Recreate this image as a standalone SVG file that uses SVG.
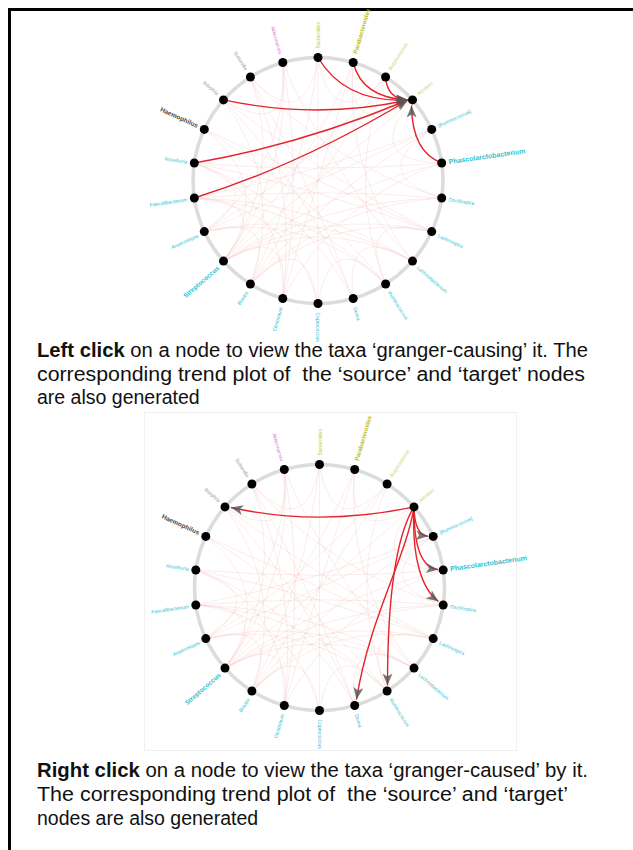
<svg xmlns="http://www.w3.org/2000/svg" xmlns:xlink="http://www.w3.org/1999/xlink" width="633" height="850" viewBox="0 0 633 850">
<style>
.ring{fill:none;stroke:#dcdcdc;stroke-width:3.5}
.dot{fill:#000}
.lbl{font-family:"Liberation Sans",Arial,sans-serif;font-size:5px;dominant-baseline:central}
.end{text-anchor:end}
.yl{fill:#c3cc36}.yl2{fill:#b4c01c;font-weight:bold;font-size:6px}.yl3{fill:#ccd46a}
.cy{fill:#2cbfd1}.big{font-size:7px;font-weight:bold}.mid{font-size:6.5px;font-weight:bold}
.gy{fill:#9a9a9a}.dk{fill:#4a4a4a}.pk{fill:#e07fd8}
.bg{fill:none;stroke:#f09a9a;stroke-width:.7;opacity:.28}
.hl{fill:none;stroke:#e8202a;stroke-width:1.4}
.cap{font-family:"Liberation Sans",Arial,sans-serif;font-size:19.5px;fill:#111;white-space:pre}
</style>
<defs>
<marker id="arr" markerUnits="userSpaceOnUse" markerWidth="13" markerHeight="11" refX="12" refY="5" orient="auto">
<path d="M0,0 L12,5 L0,10 L3,5 Z" fill="#555" fill-opacity=".8"/>
</marker>
<g id="bgedges" transform="translate(318,180.5)">
<path class="bg" d="M0,-123 L0,123 M-94.5,80.6 Q5.8,12.6 123.7,-17.5 M-94.5,80.6 L94.5,-80.6 M-94.5,80.6 Q3.8,26.3 113.7,51.1 M-113.7,51.1 L113.7,-51.1 M-113.7,51.1 Q-3.8,26.3 94.5,80.6 M-123.7,17.5 Q0,7 123.7,17.5 M-123.7,17.5 Q-11.2,24.2 67.6,103.5 M-67.6,103.5 Q11.2,24.2 123.7,17.5 M-67.6,103.5 Q9.2,10.5 113.7,-51.1 M-35.2,118 Q17.7,20.1 123.7,-17.5 M-35.2,118 Q-31.8,20.1 -123.7,-17.5 M-94.5,80.6 Q-32.4,-4.6 -67.6,-103.5 M-113.7,51.1 Q-29.8,-13.4 -35.2,-118 M-67.6,103.5 Q-32.4,4.6 -94.5,-80.6 M35.2,118 Q-17.7,20.1 -123.7,-17.5 M67.6,103.5 Q-9.2,10.5 -113.7,-51.1 M94.5,80.6 Q-5.8,19.6 -123.7,17.5 M94.5,80.6 Q11.9,-7.5 -35.2,-118 M113.7,51.1 Q3.8,-5.9 -94.5,-80.6 M123.7,17.5 Q11.2,-17.2 -67.6,-103.5 M113.7,-51.1 Q-2,-6.7 -123.7,17.5 M67.6,-103.5 L-67.6,103.5 M35.2,-118 L-35.2,118 M67.6,-103.5 Q27,0 67.6,103.5 M35.2,-118 Q25.9,-7.5 94.5,80.6"/>
<path class="bg" d="M-67.6,-103.5 Q-20.6,2.9 -35.2,118 M-35.2,-118 Q-25.9,-7.5 -94.5,80.6 M-94.5,-80.6 Q-11.9,7.5 35.2,118 M-113.7,-51.1 L113.7,51.1 M-123.7,-17.5 Q-2,6.7 113.7,51.1 M-123.7,17.5 Q-24.7,28.1 0,123 M-113.7,51.1 Q-9.2,-10.5 67.6,-103.5 M-94.5,80.6 Q-11.9,-7.5 35.2,-118 M-67.6,103.5 Q-13.5,-3.9 0,-123 M-35.2,118 Q-14.1,0 -35.2,-118 M35.2,118 Q-6.5,2.9 -67.6,-103.5 M67.6,103.5 Q-9.2,30.9 -113.7,51.1 M94.5,80.6 Q0,32.2 -94.5,80.6 M113.7,51.1 Q9.2,30.9 -67.6,103.5 M123.7,-17.5 Q0,-7 -123.7,-17.5 M123.7,17.5 Q5.8,19.6 -94.5,80.6 M-113.7,51.1 Q-47.5,6.7 -123.7,-17.5 M-94.5,80.6 Q-43.6,19.6 -123.7,17.5 M-67.6,103.5 Q-36.3,30.9 -113.7,51.1 M-35.2,118 Q-25.9,39.7 -94.5,80.6 M0,123 Q-13.5,45.3 -67.6,103.5 M67.6,103.5 Q13.5,45.3 0,123 M94.5,80.6 Q25.9,39.7 35.2,118 M113.7,51.1 Q36.3,30.9 67.6,103.5 M-94.5,80.6 Q-41.6,5.9 -113.7,-51.1 M-94.5,-80.6 Q-25.9,-39.7 -35.2,-118 M-67.6,-103.5 Q-13.5,-45.3 0,-123 M0,-123 Q13.5,-45.3 67.6,-103.5 M35.2,-118 Q25.9,-39.7 94.5,-80.6 M94.5,-80.6 Q43.6,-19.6 123.7,-17.5 M113.7,-51.1 Q47.5,-6.7 123.7,17.5"/>
</g>
</defs>
<rect width="633" height="850" fill="#fff"/>
<path d="M9.5,850 V9.5 H633" fill="none" stroke="#000" stroke-width="3"/>
<rect x="144.5" y="412.5" width="372" height="338" fill="#fff" stroke="#f0f0f0" stroke-width="1"/>

<!-- TOP GRAPH -->
<g id="top-graph">
<ellipse class="ring" cx="318" cy="180.5" rx="125" ry="123"/>
<g id="top-connectors">
<use xlink:href="#bgedges" href="#bgedges"/>
<path class="hl" marker-end="url(#arr)" d="M318,57.5 Q345,103 408,100"/>
<path class="hl" marker-end="url(#arr)" d="M353.2,62.5 Q362,98 408,100"/>
<path class="hl" marker-end="url(#arr)" d="M385.6,77 Q387,99 408,100"/>
<path class="hl" marker-end="url(#arr)" d="M223.5,99.9 Q318,120 408,100"/>
<path class="hl" marker-end="url(#arr)" d="M194.3,163 Q300,145 408,100"/>
<path class="hl" marker-end="url(#arr)" d="M194.3,198 Q300,165 408,100"/>
<path class="hl" marker-end="url(#arr)" d="M441.7,163 Q412,152 411.5,105.5"/>
</g>
<g id="top-bacteroides"><circle class="dot" cx="318" cy="57.5" r="4.5"/><text class="lbl yl" transform="translate(318,48.5) rotate(-90)">Bacteroides</text></g>
<g id="top-parabacteroides"><circle class="dot" cx="353.2" cy="62.5" r="4.5"/><text class="lbl yl2" transform="translate(355.2,53.8) rotate(-73.64)">Parabacteroides</text></g>
<g id="top-butyricimonas"><circle class="dot" cx="385.6" cy="77" r="4.5"/><text class="lbl yl3" transform="translate(389.4,69.4) rotate(-57.27)">Butyricimonas</text></g>
<g id="top-alistipes"><circle class="dot" cx="412.5" cy="99.9" r="4.5"/><text class="lbl yl3" transform="translate(417.8,94.1) rotate(-40.91)">Alistipes</text></g>
<g id="top-ruminococcus-br"><circle class="dot" cx="431.7" cy="129.4" r="4.5"/><text class="lbl cy" transform="translate(438.1,125.7) rotate(-24.55)">[Ruminococcus]</text></g>
<g id="top-phascolarctobacterium"><circle class="dot" cx="441.7" cy="163" r="4.5"/><text class="lbl cy big" transform="translate(448.7,161.7) rotate(-8.18)">Phascolarctobacterium</text></g>
<g id="top-oscillospira"><circle class="dot" cx="441.7" cy="198" r="4.5"/><text class="lbl cy" transform="translate(448.7,199.3) rotate(8.18)">Oscillospira</text></g>
<g id="top-lachnospira"><circle class="dot" cx="431.7" cy="231.6" r="4.5"/><text class="lbl cy" transform="translate(438.1,235.3) rotate(24.55)">Lachnospira</text></g>
<g id="top-lachnobacterium"><circle class="dot" cx="412.5" cy="261.1" r="4.5"/><text class="lbl cy" transform="translate(417.8,266.9) rotate(40.91)">Lachnobacterium</text></g>
<g id="top-ruminococcus"><circle class="dot" cx="385.6" cy="284" r="4.5"/><text class="lbl cy" transform="translate(389.4,291.6) rotate(57.27)">Ruminococcus</text></g>
<g id="top-dorea"><circle class="dot" cx="353.2" cy="298.5" r="4.5"/><text class="lbl cy" transform="translate(355.2,307.2) rotate(73.64)">Dorea</text></g>
<g id="top-coprococcus"><circle class="dot" cx="318" cy="303.5" r="4.5"/><text class="lbl cy" transform="translate(318,312.5) rotate(90)">Coprococcus</text></g>
<g id="top-clostridium"><circle class="dot" cx="282.8" cy="298.5" r="4.5"/><text class="lbl cy end" transform="translate(280.8,307.2) rotate(-73.64)">Clostridium</text></g>
<g id="top-blautia"><circle class="dot" cx="250.4" cy="284" r="4.5"/><text class="lbl cy end" transform="translate(246.6,291.6) rotate(-57.27)">Blautia</text></g>
<g id="top-streptococcus"><circle class="dot" cx="223.5" cy="261.1" r="4.5"/><text class="lbl cy end mid" transform="translate(218.2,266.9) rotate(-40.91)">Streptococcus</text></g>
<g id="top-anaerostipes"><circle class="dot" cx="204.3" cy="231.6" r="4.5"/><text class="lbl cy end" transform="translate(197.9,235.3) rotate(-24.55)">Anaerostipes</text></g>
<g id="top-faecalibacterium"><circle class="dot" cx="194.3" cy="198" r="4.5"/><text class="lbl cy end" transform="translate(187.3,199.3) rotate(-8.18)">Faecalibacterium</text></g>
<g id="top-roseburia"><circle class="dot" cx="194.3" cy="163" r="4.5"/><text class="lbl cy end" transform="translate(187.3,161.7) rotate(8.18)">Roseburia</text></g>
<g id="top-haemophilus"><circle class="dot" cx="204.3" cy="129.4" r="4.5"/><text class="lbl dk end mid" transform="translate(197.9,125.7) rotate(24.55)">Haemophilus</text></g>
<g id="top-bilophila"><circle class="dot" cx="223.5" cy="99.9" r="4.5"/><text class="lbl gy end" transform="translate(218.2,94.1) rotate(40.91)">Bilophila</text></g>
<g id="top-sutterella"><circle class="dot" cx="250.4" cy="77" r="4.5"/><text class="lbl gy end" transform="translate(246.6,69.4) rotate(57.27)">Sutterella</text></g>
<g id="top-akkermansia"><circle class="dot" cx="282.8" cy="62.5" r="4.5"/><text class="lbl pk end" transform="translate(280.8,53.8) rotate(73.64)">Akkermansia</text></g>
</g>

<text class="cap" x="37" y="357" textLength="551" lengthAdjust="spacingAndGlyphs"><tspan font-weight="bold">Left click</tspan> on a node to view the taxa ‘granger-causing’ it. The</text>
<text class="cap" x="37" y="381" textLength="548" lengthAdjust="spacingAndGlyphs">corresponding trend plot of  the ‘source’ and ‘target’ nodes</text>
<text class="cap" x="37" y="404">are also generated</text>

<!-- BOTTOM GRAPH -->
<g id="bottom-graph" transform="translate(1.5,407)">
<ellipse class="ring" cx="318" cy="180.5" rx="125" ry="123"/>
<g id="bottom-connectors">
<use xlink:href="#bgedges" href="#bgedges"/>
<path class="hl" marker-end="url(#arr)" d="M412.5,99.9 Q318,120 229.5,100.5"/>
<path class="hl" marker-end="url(#arr)" d="M412.5,99.9 Q413,128 426.5,129.2"/>
<path class="hl" marker-end="url(#arr)" d="M412.5,99.9 Q412,160 436.5,162.5"/>
<path class="hl" marker-end="url(#arr)" d="M412.5,99.9 C410,150 420,182 437,194.5"/>
<path class="hl" marker-end="url(#arr)" d="M412.5,99.9 C394,130 386,190 386,278.5"/>
<path class="hl" marker-end="url(#arr)" d="M412.5,99.9 C405,150 368,210 355,292.5"/>
</g>
<g id="bot-bacteroides"><circle class="dot" cx="318" cy="57.5" r="4.5"/><text class="lbl yl" transform="translate(318,48.5) rotate(-90)">Bacteroides</text></g>
<g id="bot-parabacteroides"><circle class="dot" cx="353.2" cy="62.5" r="4.5"/><text class="lbl yl2" transform="translate(355.2,53.8) rotate(-73.64)">Parabacteroides</text></g>
<g id="bot-butyricimonas"><circle class="dot" cx="385.6" cy="77" r="4.5"/><text class="lbl yl3" transform="translate(389.4,69.4) rotate(-57.27)">Butyricimonas</text></g>
<g id="bot-alistipes"><circle class="dot" cx="412.5" cy="99.9" r="4.5"/><text class="lbl yl3" transform="translate(417.8,94.1) rotate(-40.91)">Alistipes</text></g>
<g id="bot-ruminococcus-br"><circle class="dot" cx="431.7" cy="129.4" r="4.5"/><text class="lbl cy" transform="translate(438.1,125.7) rotate(-24.55)">[Ruminococcus]</text></g>
<g id="bot-phascolarctobacterium"><circle class="dot" cx="441.7" cy="163" r="4.5"/><text class="lbl cy big" transform="translate(448.7,161.7) rotate(-8.18)">Phascolarctobacterium</text></g>
<g id="bot-oscillospira"><circle class="dot" cx="441.7" cy="198" r="4.5"/><text class="lbl cy" transform="translate(448.7,199.3) rotate(8.18)">Oscillospira</text></g>
<g id="bot-lachnospira"><circle class="dot" cx="431.7" cy="231.6" r="4.5"/><text class="lbl cy" transform="translate(438.1,235.3) rotate(24.55)">Lachnospira</text></g>
<g id="bot-lachnobacterium"><circle class="dot" cx="412.5" cy="261.1" r="4.5"/><text class="lbl cy" transform="translate(417.8,266.9) rotate(40.91)">Lachnobacterium</text></g>
<g id="bot-ruminococcus"><circle class="dot" cx="385.6" cy="284" r="4.5"/><text class="lbl cy" transform="translate(389.4,291.6) rotate(57.27)">Ruminococcus</text></g>
<g id="bot-dorea"><circle class="dot" cx="353.2" cy="298.5" r="4.5"/><text class="lbl cy" transform="translate(355.2,307.2) rotate(73.64)">Dorea</text></g>
<g id="bot-coprococcus"><circle class="dot" cx="318" cy="303.5" r="4.5"/><text class="lbl cy" transform="translate(318,312.5) rotate(90)">Coprococcus</text></g>
<g id="bot-clostridium"><circle class="dot" cx="282.8" cy="298.5" r="4.5"/><text class="lbl cy end" transform="translate(280.8,307.2) rotate(-73.64)">Clostridium</text></g>
<g id="bot-blautia"><circle class="dot" cx="250.4" cy="284" r="4.5"/><text class="lbl cy end" transform="translate(246.6,291.6) rotate(-57.27)">Blautia</text></g>
<g id="bot-streptococcus"><circle class="dot" cx="223.5" cy="261.1" r="4.5"/><text class="lbl cy end mid" transform="translate(218.2,266.9) rotate(-40.91)">Streptococcus</text></g>
<g id="bot-anaerostipes"><circle class="dot" cx="204.3" cy="231.6" r="4.5"/><text class="lbl cy end" transform="translate(197.9,235.3) rotate(-24.55)">Anaerostipes</text></g>
<g id="bot-faecalibacterium"><circle class="dot" cx="194.3" cy="198" r="4.5"/><text class="lbl cy end" transform="translate(187.3,199.3) rotate(-8.18)">Faecalibacterium</text></g>
<g id="bot-roseburia"><circle class="dot" cx="194.3" cy="163" r="4.5"/><text class="lbl cy end" transform="translate(187.3,161.7) rotate(8.18)">Roseburia</text></g>
<g id="bot-haemophilus"><circle class="dot" cx="204.3" cy="129.4" r="4.5"/><text class="lbl dk end mid" transform="translate(197.9,125.7) rotate(24.55)">Haemophilus</text></g>
<g id="bot-bilophila"><circle class="dot" cx="223.5" cy="99.9" r="4.5"/><text class="lbl gy end" transform="translate(218.2,94.1) rotate(40.91)">Bilophila</text></g>
<g id="bot-sutterella"><circle class="dot" cx="250.4" cy="77" r="4.5"/><text class="lbl gy end" transform="translate(246.6,69.4) rotate(57.27)">Sutterella</text></g>
<g id="bot-akkermansia"><circle class="dot" cx="282.8" cy="62.5" r="4.5"/><text class="lbl pk end" transform="translate(280.8,53.8) rotate(73.64)">Akkermansia</text></g>
</g>

<text class="cap" x="37" y="777" textLength="551" lengthAdjust="spacingAndGlyphs"><tspan font-weight="bold">Right click</tspan> on a node to view the taxa ‘granger-caused’ by it.</text>
<text class="cap" x="37" y="801" textLength="531" lengthAdjust="spacingAndGlyphs">The corresponding trend plot of  the ‘source’ and ‘target’</text>
<text class="cap" x="37" y="825">nodes are also generated</text>
</svg>
